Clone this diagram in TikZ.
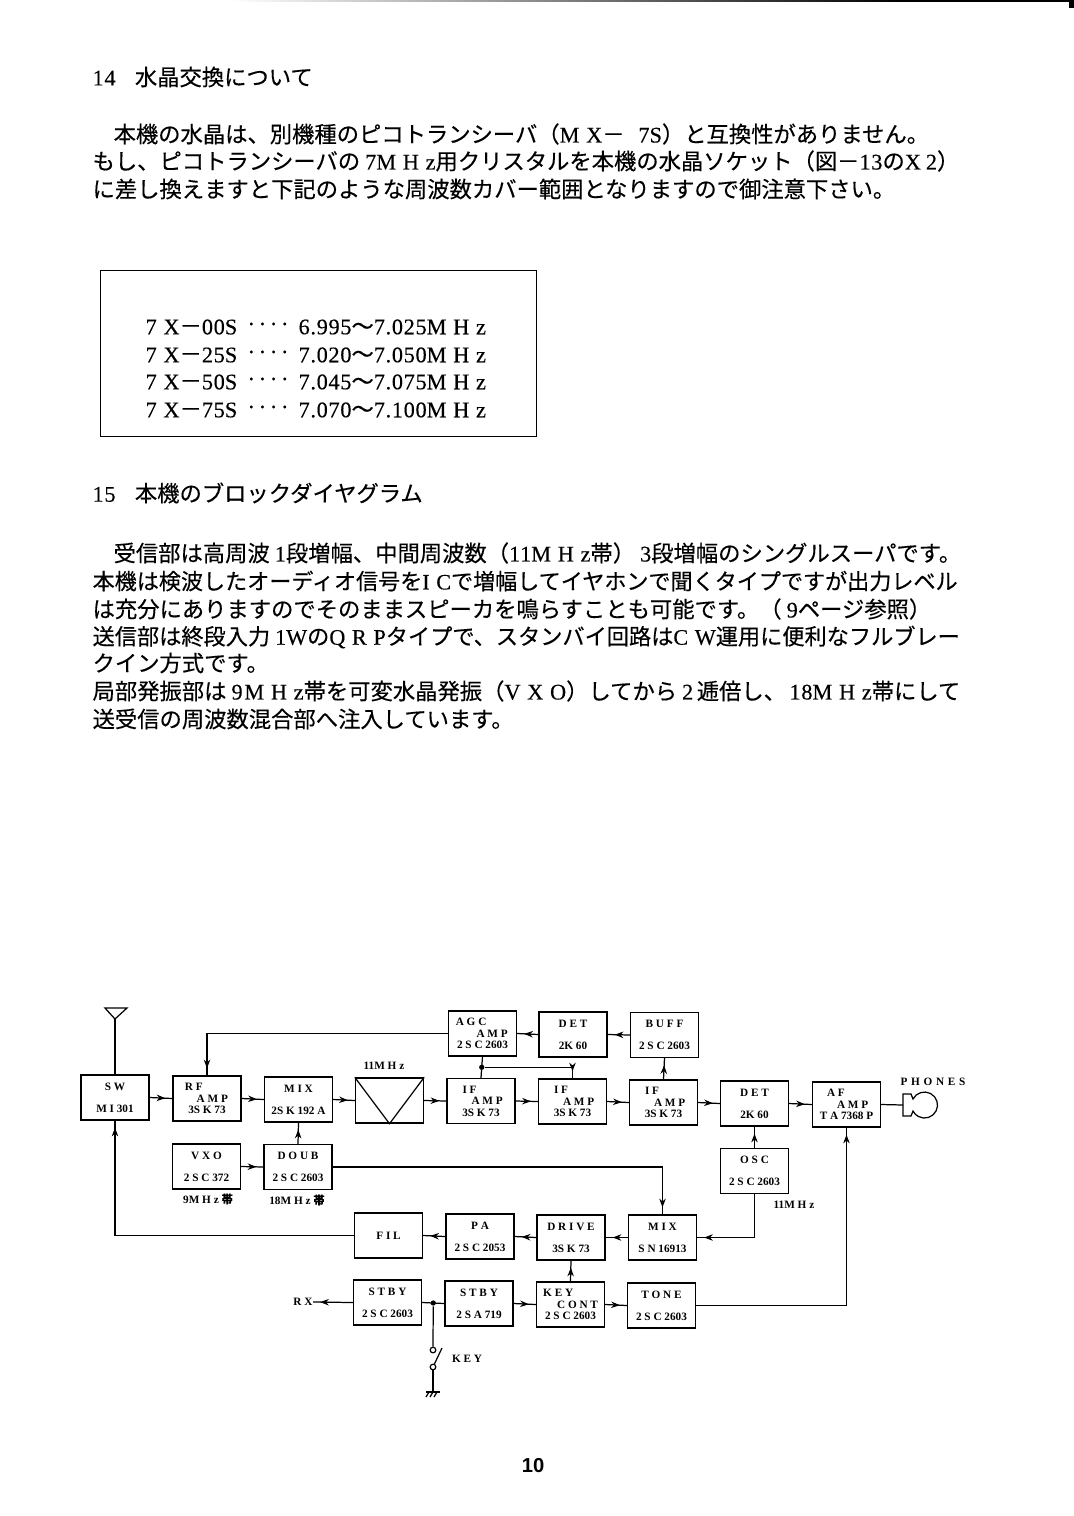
\documentclass[tikz,border=0pt]{standalone}
\usepackage{fontspec}
\setmainfont{Liberation Serif}
\newfontfamily\cjk[FakeBold=0.3]{Noto Sans CJK JP}
\newfontfamily\widelat[LetterSpace=30,FakeBold=0.3]{Liberation Serif}
\newfontfamily\numlat[LetterSpace=3,FakeBold=0.3]{Liberation Serif}
\newfontfamily\pagefont{Liberation Sans}
\newcommand{\wl}[1]{{\widelat #1}}
\newcommand{\lat}[1]{{\numlat #1}}
\usetikzlibrary{calc,decorations.markings,arrows.meta}

\begin{document}
\begin{tikzpicture}[x=0.02cm, y=-0.02cm, >=Stealth, line width=0.7pt,
  line/.style={anchor=west, inner sep=0pt, font=\cjk\fontsize{12.7}{14}\selectfont},
  stage/.style={draw, line width=0.8pt, minimum width=1.36cm, minimum height=0.9cm, inner sep=0pt, align=center,
    font=\bfseries\fontsize{6.4}{6.6}\selectfont},
  lab/.style={inner sep=0pt, font=\bfseries\fontsize{6.4}{6.6}\selectfont},
  dot/.style={circle, fill=black, minimum size=3pt, inner sep=0pt},
  contact/.style={circle, draw, fill=white, minimum size=3.2pt, inner sep=0pt},
  flow/.style={postaction={decorate}, decoration={markings, mark=at position -4pt with {\arrow[scale=0.8]{Stealth}}}},
]
  \useasboundingbox (0,0) rectangle (1074,1516);
  \fill[white] (0,0) rectangle (1074,1516);

  % scan edge
  \shade[left color=white, right color=black] (230,0) rectangle (900,1.5);
  \fill (900,0) rectangle (1074,2);
  \fill (1069,0) rectangle (1074,8);

  % page text
  \node[line] (heada) at (92,77) {\lat{14}\hspace{11pt}水晶交換について};
  \node[line] (texta) at (113,134) {本機の水晶は、別機種のピコトランシーバ（\wl{MX}－\hspace{5pt} \lat{7}\wl{S}）と互換性がありません。};
  \node[line] (textb) at (92,161) {もし、ピコトランシーバの \lat{7}\wl{MHz}用クリスタルを本機の水晶ソケット（図－\lat{13}の\wl{X} \lat{2}）};
  \node[line] (textc) at (92,189) {に差し換えますと下記のような周波数カバー範囲となりますので御注意下さい。};

  \draw[line width=0.5pt] (100,270) rectangle (536,436);
  \foreach \yy/\xname in {327/00, 355/25, 382/50, 410/75}{
    \node[line] (xt\xname) at (145,\yy) {\wl{7X}－\lat{\xname}\wl{S}};
    \node[line] (xd\xname) at (247,\yy) {\lat{·\,·\,·\,·}};
  }
  \node[line] (xra) at (298,327) {\lat{6.995}～\lat{7.025}\wl{MHz}};
  \node[line] (xrb) at (298,355) {\lat{7.020}～\lat{7.050}\wl{MHz}};
  \node[line] (xrc) at (298,382) {\lat{7.045}～\lat{7.075}\wl{MHz}};
  \node[line] (xrd) at (298,410) {\lat{7.070}～\lat{7.100}\wl{MHz}};

  \node[line] (headb) at (92,493) {\lat{15}\hspace{11pt}本機のブロックダイヤグラム};
  \node[line] (textd) at (113,553) {受信部は高周波 \lat{1}段増幅、中間周波数（\lat{11}\wl{MHz}帯） \lat{3}段増幅のシングルスーパです。};
  \node[line, font=\cjk\fontsize{12.57}{14}\selectfont] (texte) at (92,581) {本機は検波したオーディオ信号を\wl{IC}で増幅してイヤホンで聞くタイプですが出力レベル};
  \node[line] (textf) at (92,609) {は充分にありますのでそのままスピーカを鳴らすことも可能です。（ \lat{9}ページ参照）};
  \node[line, font=\cjk\fontsize{12.63}{14}\selectfont] (textg) at (92,637) {送信部は終段入力 \lat{1}\wl{W}の\wl{QRP}タイプで、スタンバイ回路は\wl{CW}運用に便利なフルブレー};
  \node[line] (texth) at (92,663) {クイン方式です。};
  \node[line] (texti) at (92,691) {局部発振部は \lat{9}\hspace{1pt}\wl{MHz}帯を可変水晶発振（\wl{VXO}）してから \lat{2}\hspace{2pt}逓倍し、\hspace{2pt}\lat{18}\wl{MHz}帯にして};
  \node[line] (textj) at (92,719) {送受信の周波数混合部へ注入しています。};

  % receiver row
  \node[stage] (sw) at (115,1097.5) {S W\\[6pt]M I 301};
  \node[stage] (rf) at (207,1098.5) {\hspace*{-15pt}R F\\\hspace*{6pt}A M P\\3S K 73};
  \node[stage] (mixa) at (298.5,1099.5) {M I X\\[6pt]2S K 192 A};
  \node[stage] (filt) at (389.5,1100.5) {};
  \node[stage] (ifa) at (481,1101) {\hspace*{-13pt}I F\\\hspace*{7pt}A M P\\3S K 73};
  \node[stage] (ifb) at (572.5,1101.5) {\hspace*{-13pt}I F\\\hspace*{7pt}A M P\\3S K 73};
  \node[stage] (ifc) at (663.5,1102.5) {\hspace*{-13pt}I F\\\hspace*{7pt}A M P\\3S K 73};
  \node[stage] (detb) at (754.5,1103.5) {D E T\\[6pt]2K 60};
  \node[stage] (af) at (846.5,1104.5) {\hspace*{-12pt}A F\\\hspace*{7pt}A M P\\T A 7368 P};

  % agc chain
  \node[stage] (agc) at (482.5,1033.5) {\hspace*{-13pt}A G C\\\hspace*{11pt}A M P\\2 S C 2603};
  \node[stage] (deta) at (573,1034.5) {D E T\\[6pt]2K 60};
  \node[stage] (buff) at (664.5,1035) {B U F F\\[6pt]2 S C 2603};

  % oscillators
  \node[stage] (vxo) at (206.5,1166.5) {V X O\\[6pt]2 S C 372};
  \node[stage] (doub) at (298,1167) {D O U B\\[6pt]2 S C 2603};
  \node[stage] (osc) at (754.5,1171) {O S C\\[6pt]2 S C 2603};

  % transmitter row
  \node[stage] (fil) at (388.5,1235.5) {F I L};
  \node[stage] (pa) at (480,1236.5) {P A\\[6pt]2 S C 2053};
  \node[stage] (drive) at (571,1237.5) {D R I V E\\[6pt]3S K 73};
  \node[stage] (mixb) at (662.5,1237.5) {M I X\\[6pt]S N 16913};

  % standby row
  \node[stage] (stbya) at (387.5,1302.5) {S T B Y\\[6pt]2 S C 2603};
  \node[stage] (stbyb) at (479,1303.5) {S T B Y\\[6pt]2 S A 719};
  \node[stage] (keyc) at (570.5,1304.5) {\hspace*{-14pt}K E Y\\\hspace*{8pt}C O N T\\2 S C 2603};
  \node[stage] (tone) at (661.5,1305.5) {T O N E\\[6pt]2 S C 2603};

  % small labels
  \node[lab] (fa) at (384,1066) {11M H z};
  \node[lab] (fb) at (208,1199) {9M H z {\cjk 帯}};
  \node[lab] (fc) at (297,1200) {18M H z {\cjk 帯}};
  \node[lab] (fd) at (794,1205) {11M H z};
  \node[lab] (rx) at (303,1302) {R X};
  \node[lab] (keyl) at (467,1359) {K E Y};
  \node[lab] (phl) at (933,1082) {P\,\,H\,\,O\,\,N\,\,E\,\,S};
  \node[inner sep=0pt, font=\pagefont\bfseries\fontsize{11.5}{12}\selectfont] (pageno) at (533,1466) {10};

  % filter symbol
  \draw (filt.north west) -- (filt.south) -- (filt.north east);

  % antenna
  \coordinate (ant) at (115,1019);
  \draw (ant) -- ++(-10,-11) -- ++(22,0) -- cycle;
  \draw (ant) -- (sw.north);

  % signal path
  \draw[flow] (sw.east) -- (rf.west);
  \draw[flow] (rf.east) -- (mixa.west);
  \draw[flow] (mixa.east) -- (filt.west);
  \draw[flow] (filt.east) -- (ifa.west);
  \draw[flow] (ifa.east) -- (ifb.west);
  \draw[flow] (ifb.east) -- (ifc.west);
  \draw[flow] (ifc.east) -- (detb.west);
  \draw[flow] (detb.east) -- (af.west);
  \draw[flow] (ifc.north) -- (buff.south);
  \draw[flow] (buff.west) -- (deta.east);
  \draw[flow] (deta.west) -- (agc.east);
  \draw[flow] (agc.west) -| (rf.north);
  \draw (agc.south) -- (ifa.north);
  \node[dot] (agcj) at ($(agc.south)!.5!(ifa.north)$) {};
  \draw[flow] (agcj) -| (ifb.north);
  \draw[flow] (vxo.east) -- (doub.west);
  \draw[flow] (doub.north) -- (mixa.south);
  \draw[flow] (doub.east) -| (mixb.north);
  \draw[flow] (osc.north) -- (detb.south);
  \draw[flow] (osc.south) |- (mixb.east);
  \draw[flow] (mixb.west) -- (drive.east);
  \draw[flow] (drive.west) -- (pa.east);
  \draw[flow] (pa.west) -- (fil.east);
  \draw[flow] (fil.west) -| (sw.south);
  \draw[flow] (keyc.north) -- (drive.south);
  \draw[flow] (stbya.west) -- (rx.east);
  \draw (stbyb.west) -- (stbya.east);
  \draw[flow] (stbyb.east) -- (keyc.west);
  \draw[flow] (keyc.east) -- (tone.west);
  \draw[flow] (tone.east) -| (af.south);

  % key switch
  \node[dot] (keyj) at ($(stbya.east)!.5!(stbyb.west)$) {};
  \node[contact] (keyt) at (433,1350) {};
  \node[contact] (keyb) at (433,1367) {};
  \coordinate (gnd) at (433,1392);
  \draw (keyj) -- (keyt);
  \draw (keyb) -- (gnd);
  \draw (keyb) -- (442,1348);
  \draw (426,1392) -- (440,1392);
  \foreach \xx in {429,433,437}{
    \draw (\xx,1392) -- ++(-3,5);
  }

  % phones
  \coordinate (phn) at (903,1105);
  \draw (phn) -- (903,1094) -- (911,1094) -- (913,1099)
    arc[start angle=207.6, end angle=512.4, radius=13] -- (911,1116) -- (903,1116) -- cycle;
  \draw (af.east) -- (phn);
\end{tikzpicture}
\end{document}
